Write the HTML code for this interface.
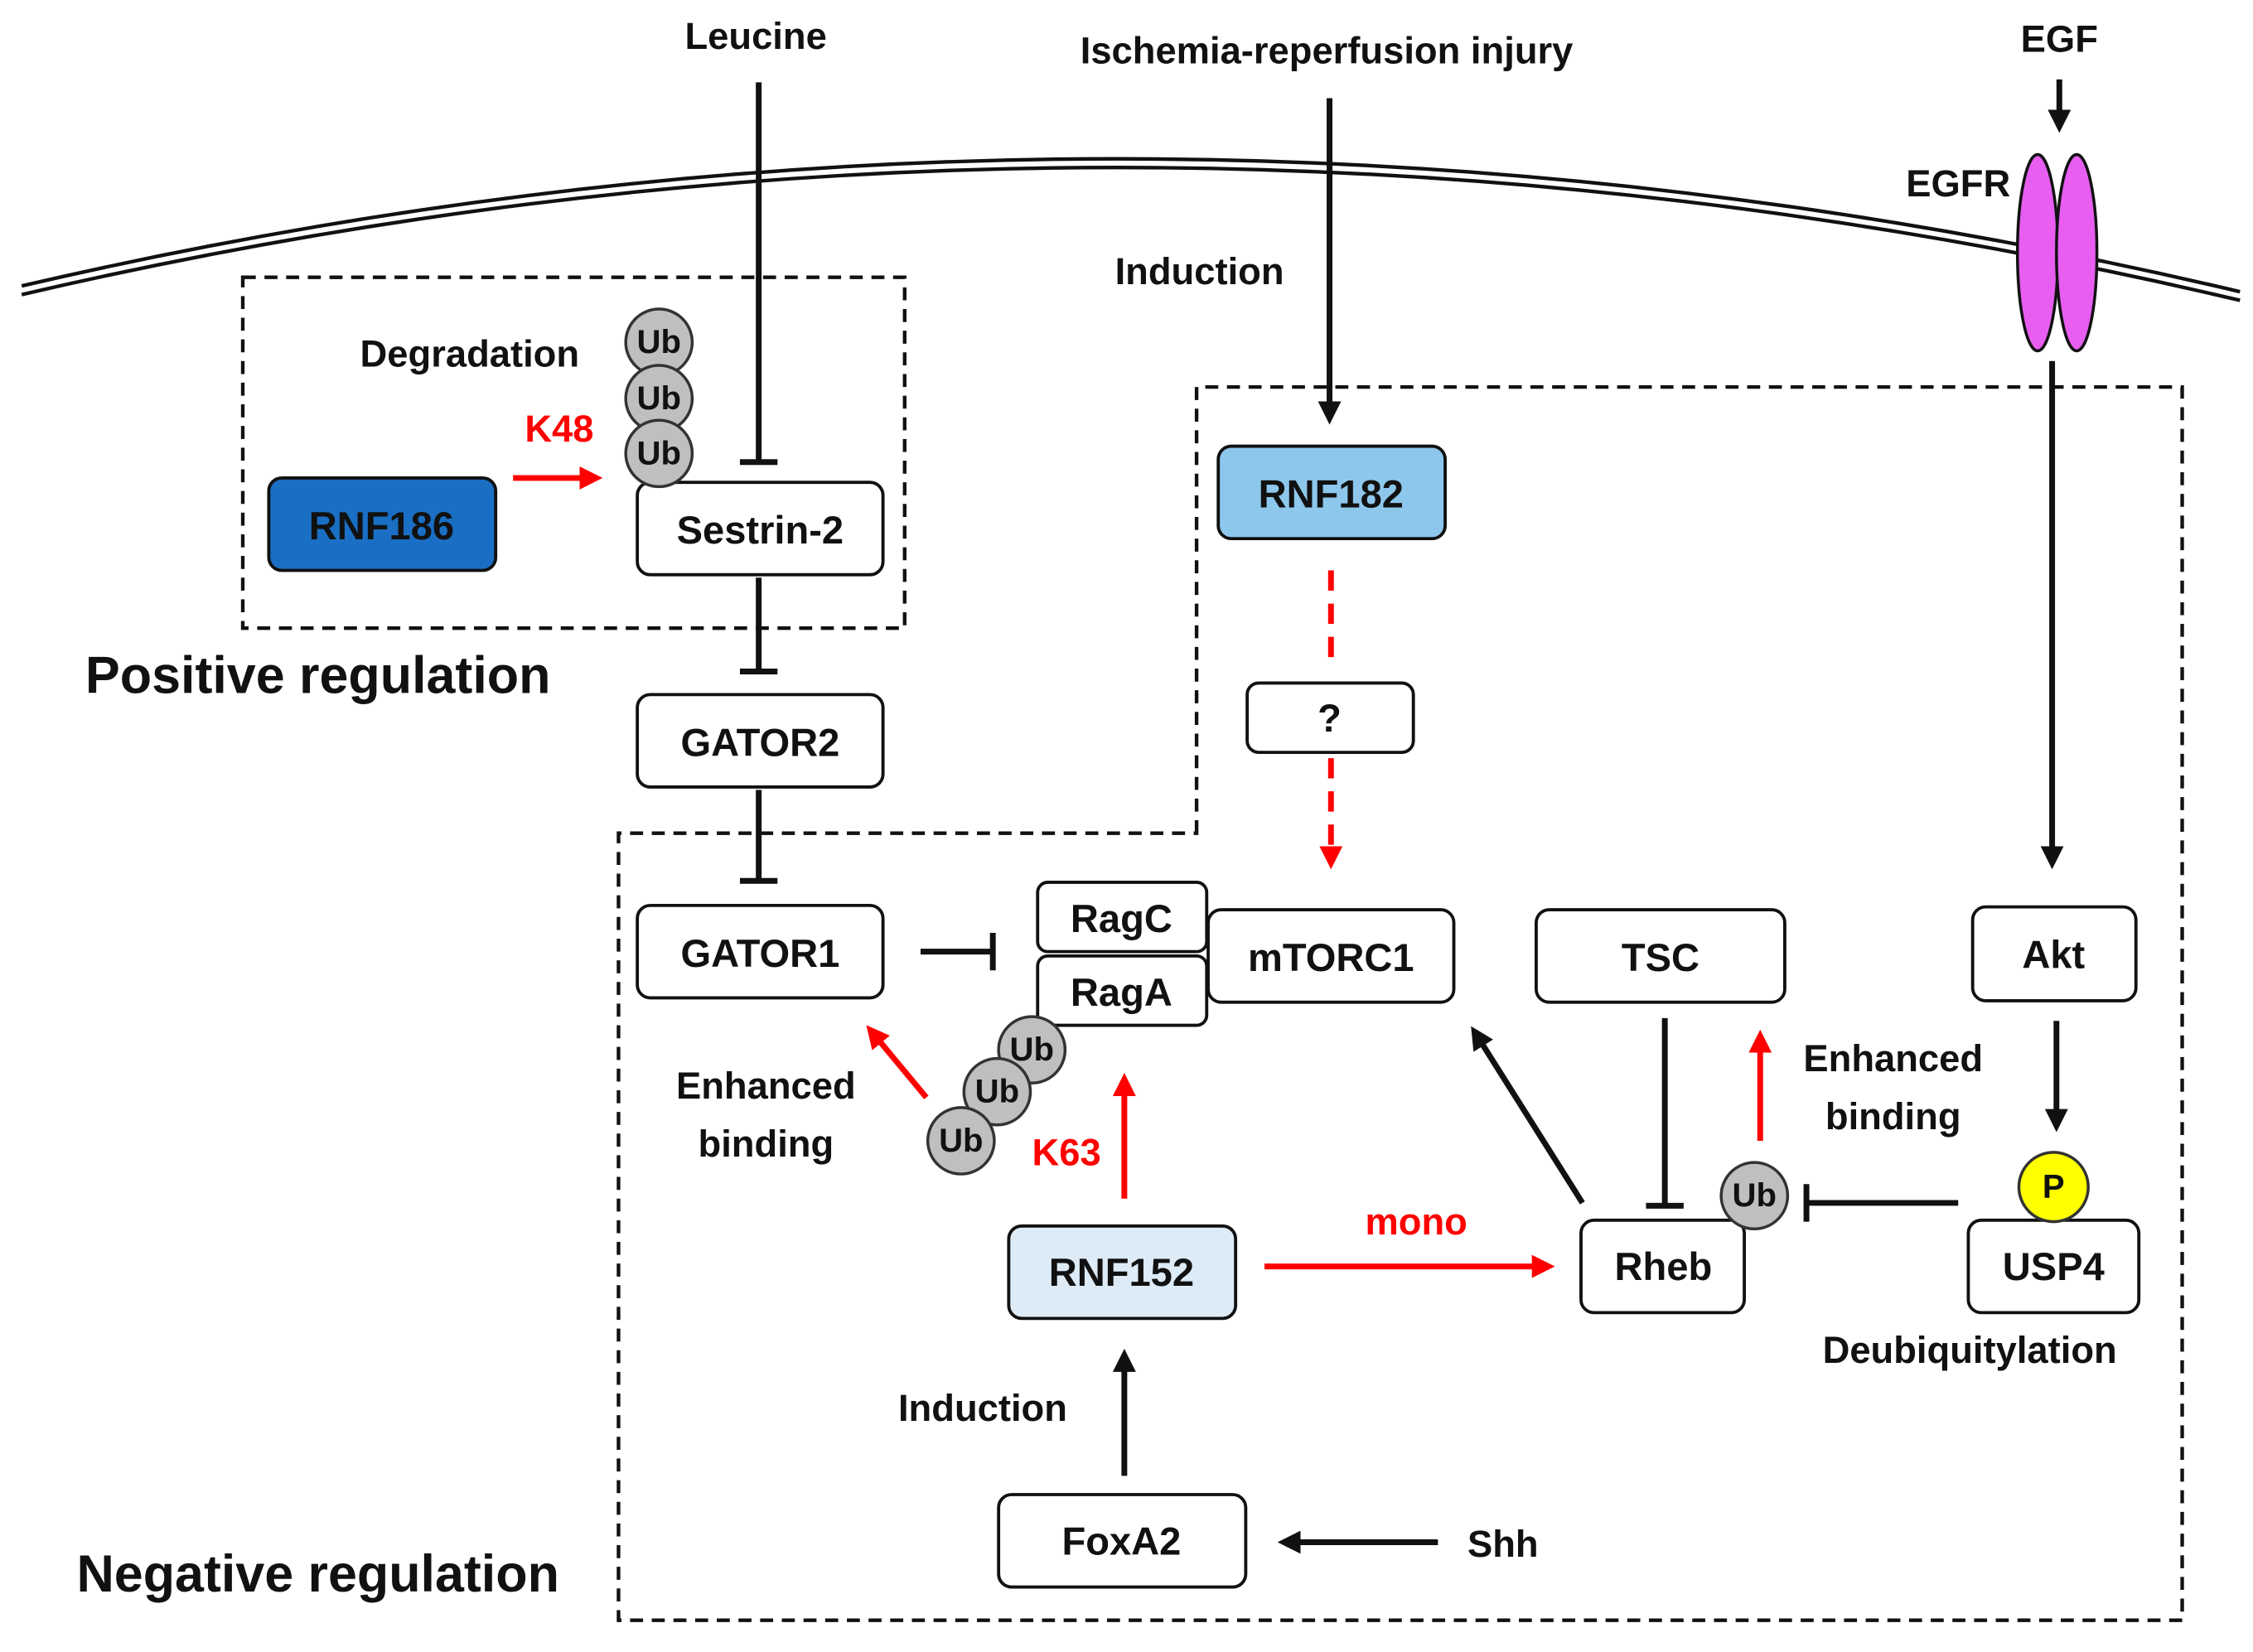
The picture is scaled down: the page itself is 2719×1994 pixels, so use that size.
<!DOCTYPE html>
<html><head><meta charset="utf-8"><style>
html,body{margin:0;padding:0;background:#fff}
svg{display:block}
text{font-family:"Liberation Sans",sans-serif;font-weight:bold;fill:#111;text-anchor:middle;dominant-baseline:central}
</style></head><body>
<svg width="2719" height="1994" viewBox="0 0 1559 1144" preserveAspectRatio="none" xmlns="http://www.w3.org/2000/svg">
<defs>
<marker id="ab" markerWidth="4" markerHeight="4" refX="3" refY="2" orient="auto" markerUnits="strokeWidth"><path d="M0,0 L4,2 L0,4z" fill="#111"/></marker>
<marker id="ar" markerWidth="4" markerHeight="4" refX="3" refY="2" orient="auto" markerUnits="strokeWidth"><path d="M0,0 L4,2 L0,4z" fill="#f00"/></marker>
</defs>
<!-- membrane -->
<path d="M15,198 Q780,20 1550,202" fill="none" stroke="#111" stroke-width="2.5"/>
<path d="M15,204 Q780,26 1550,208" fill="none" stroke="#111" stroke-width="2.5"/>
<!-- dashed boxes -->
<rect x="168" y="192" width="458" height="243" fill="none" stroke="#111" stroke-width="2.5" stroke-dasharray="9,6"/>
<path d="M828,577 L828,268 L1510,268 L1510,1122 L428,1122 L428,577 Z" fill="none" stroke="#111" stroke-width="2.5" stroke-dasharray="9,6"/>
<g font-size="26">
<text x="523" y="25">Leucine</text>
<text x="918" y="35">Ischemia-reperfusion injury</text>
<text x="1425" y="27">EGF</text>
<text x="1355" y="127">EGFR</text>
<text x="830" y="188">Induction</text>
<text x="325" y="245">Degradation</text>
<text x="530" y="752">Enhanced</text><text x="530" y="792">binding</text>
<text x="1310" y="733">Enhanced</text><text x="1310" y="773">binding</text>
<text x="1363" y="935">Deubiquitylation</text>
<text x="680" y="975">Induction</text>
<text x="1040" y="1069">Shh</text>
</g>
<text x="387" y="297" font-size="26" style="fill:#f00">K48</text>
<text x="738" y="798" font-size="26" style="fill:#f00">K63</text>
<text x="980" y="846" font-size="26" style="fill:#f00">mono</text>
<text x="220" y="468" font-size="36">Positive regulation</text>
<text x="220" y="1090" font-size="36">Negative regulation</text>
<!-- EGFR -->
<ellipse cx="1410" cy="175" rx="14" ry="68" fill="#e75ef0" stroke="#111" stroke-width="2"/>
<ellipse cx="1437" cy="175" rx="14" ry="68" fill="#e75ef0" stroke="#111" stroke-width="2"/>
<!-- black lines -->
<g stroke="#111" stroke-width="4" fill="none">
<line x1="525" y1="57" x2="525" y2="320"/><line x1="512" y1="320" x2="538" y2="320"/>
<line x1="525" y1="400" x2="525" y2="465"/><line x1="512" y1="465" x2="538" y2="465"/>
<line x1="525" y1="547" x2="525" y2="610"/><line x1="512" y1="610" x2="538" y2="610"/>
<line x1="637" y1="659" x2="687" y2="659"/><line x1="687" y1="646" x2="687" y2="672"/>
<line x1="1152" y1="705" x2="1152" y2="835"/><line x1="1139" y1="835" x2="1165" y2="835"/>
<line x1="1355" y1="833" x2="1250" y2="833"/><line x1="1250" y1="820" x2="1250" y2="846"/>
<line x1="920" y1="68" x2="920" y2="290" marker-end="url(#ab)"/>
<line x1="1425" y1="55" x2="1425" y2="88" marker-end="url(#ab)"/>
<line x1="1420" y1="250" x2="1420" y2="598" marker-end="url(#ab)"/>
<line x1="1423" y1="707" x2="1423" y2="780" marker-end="url(#ab)"/>
<line x1="1095" y1="833" x2="1020" y2="714" marker-end="url(#ab)"/>
<line x1="778" y1="1022" x2="778" y2="938" marker-end="url(#ab)"/>
<line x1="995" y1="1068" x2="888" y2="1068" marker-end="url(#ab)"/>
</g>
<!-- red lines -->
<g stroke="#f00" stroke-width="4" fill="none">
<line x1="355" y1="331" x2="413" y2="331" marker-end="url(#ar)"/>
<line x1="921" y1="395" x2="921" y2="462" stroke-dasharray="14,9"/>
<line x1="921" y1="525" x2="921" y2="598" stroke-dasharray="14,9" marker-end="url(#ar)"/>
<line x1="641" y1="760" x2="602" y2="713" marker-end="url(#ar)"/>
<line x1="778" y1="830" x2="778" y2="747" marker-end="url(#ar)"/>
<line x1="875" y1="877" x2="1072" y2="877" marker-end="url(#ar)"/>
<line x1="1218" y1="790" x2="1218" y2="717" marker-end="url(#ar)"/>
</g>
<!-- boxes -->
<g stroke="#111" stroke-width="2.2">
<rect x="186" y="331" width="157" height="64" rx="9" fill="#1a6fc4"/>
<rect x="441" y="334" width="170" height="64" rx="9" fill="#fff"/>
<rect x="441" y="481" width="170" height="64" rx="9" fill="#fff"/>
<rect x="843" y="309" width="157" height="64" rx="9" fill="#8ec7ec"/>
<rect x="863" y="473" width="115" height="48" rx="8" fill="#fff"/>
<rect x="441" y="627" width="170" height="64" rx="9" fill="#fff"/>
<rect x="718" y="611" width="117" height="48" rx="7" fill="#fff"/>
<rect x="718" y="662" width="117" height="48" rx="7" fill="#fff"/>
<rect x="836" y="630" width="170" height="64" rx="9" fill="#fff"/>
<rect x="1063" y="630" width="172" height="64" rx="9" fill="#fff"/>
<rect x="1365" y="628" width="113" height="65" rx="9" fill="#fff"/>
<rect x="698" y="849" width="157" height="64" rx="9" fill="#ddebf7"/>
<rect x="1094" y="845" width="113" height="64" rx="9" fill="#fff"/>
<rect x="1362" y="845" width="118" height="64" rx="9" fill="#fff"/>
<rect x="691" y="1035" width="171" height="64" rx="9" fill="#fff"/>
</g>
<g font-size="27">
<text x="264" y="364">RNF186</text>
<text x="526" y="367">Sestrin-2</text>
<text x="526" y="514">GATOR2</text>
<text x="921" y="342">RNF182</text>
<text x="920" y="497">?</text>
<text x="526" y="660">GATOR1</text>
<text x="776" y="636">RagC</text>
<text x="776" y="687">RagA</text>
<text x="921" y="663">mTORC1</text>
<text x="1149" y="663">TSC</text>
<text x="1421" y="661">Akt</text>
<text x="776" y="881">RNF152</text>
<text x="1151" y="877">Rheb</text>
<text x="1421" y="877">USP4</text>
<text x="776" y="1067">FoxA2</text>
</g>
<!-- Ub circles -->
<g stroke="#333" stroke-width="2" fill="#bfbfbf">
<circle cx="456" cy="237" r="23"/><circle cx="456" cy="276" r="23"/><circle cx="456" cy="314" r="23"/>
<circle cx="714" cy="727" r="23"/><circle cx="690" cy="756" r="23"/><circle cx="665" cy="790" r="23"/>
<circle cx="1214" cy="828" r="23"/>
</g>
<circle cx="1421" cy="822" r="24" fill="#ffff00" stroke="#333" stroke-width="2"/>
<g font-size="23">
<text x="456" y="237">Ub</text><text x="456" y="276">Ub</text><text x="456" y="314">Ub</text>
<text x="714" y="727">Ub</text><text x="690" y="756">Ub</text><text x="665" y="790">Ub</text>
<text x="1214" y="828">Ub</text><text x="1421" y="822">P</text>
</g>
</svg>
</body></html>
